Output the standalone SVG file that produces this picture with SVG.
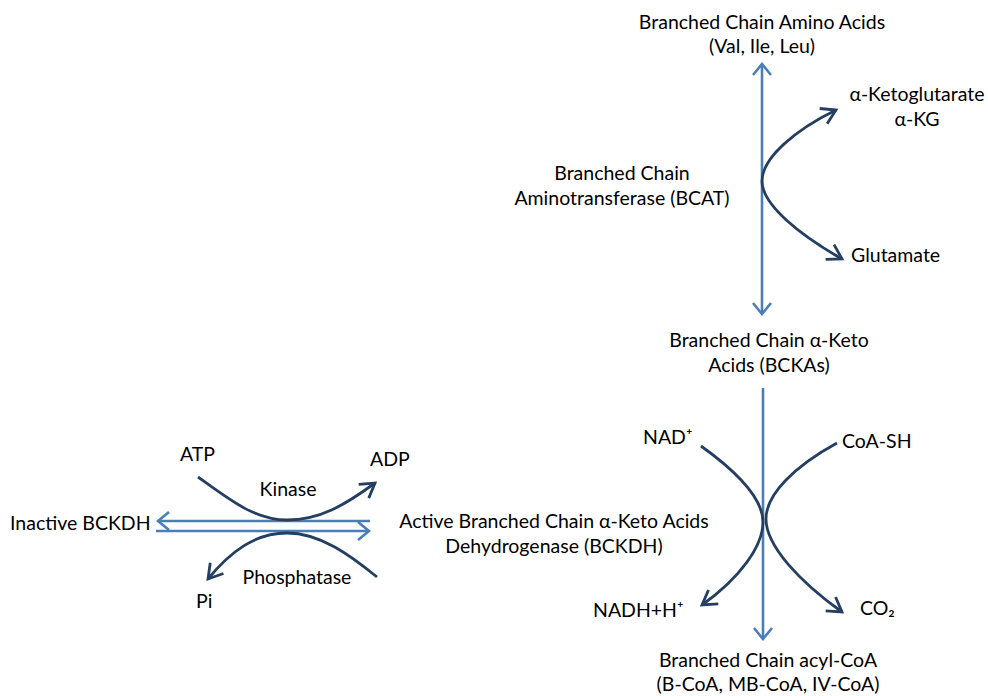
<svg xmlns="http://www.w3.org/2000/svg" width="988" height="696" viewBox="0 0 988 696">
<defs>
<marker id="ab" viewBox="0 0 14 20" refX="12" refY="10" markerWidth="14" markerHeight="20" markerUnits="userSpaceOnUse" orient="auto-start-reverse"><path d="M1,1 L12,10 L1,19" fill="none" stroke="#4a7ebb" stroke-width="2.6"/></marker>
<marker id="ad" viewBox="0 0 18 20" refX="15" refY="10" markerWidth="18" markerHeight="20" markerUnits="userSpaceOnUse" orient="auto-start-reverse"><path d="M1,1.5 L15,10 L1,18.5" fill="none" stroke="#243f60" stroke-width="2.8"/></marker>
</defs>
<style>
text{font-family:Lato,"Liberation Sans",sans-serif;font-size:19.5px;fill:#000}
.m{text-anchor:middle}
.b{fill:none;stroke:#4a7ebb;stroke-width:2.6}
.d{fill:none;stroke:#243f60;stroke-width:2.8}
</style>
<g id="connectors">
<line class="b" x1="762" y1="64" x2="762" y2="314" marker-start="url(#ab)" marker-end="url(#ab)"/>
<line class="b" x1="763" y1="388" x2="763" y2="639" marker-end="url(#ab)"/>
<line class="b" x1="370" y1="521" x2="158" y2="521" marker-end="url(#ab)"/>
<line class="b" x1="156" y1="531" x2="369" y2="531" marker-end="url(#ab)"/>
<path class="d" d="M836,110 C795,130 762,158 762,181 C762,205 800,235 842,259" marker-start="url(#ad)" marker-end="url(#ad)"/>
<path class="d" d="M701,446 C740,474 763,500 763,522 C763,546 740,578 702,605" marker-end="url(#ad)"/>
<path class="d" d="M837,443 C795,466 766,494 766,519 C766,546 800,582 842,612" marker-end="url(#ad)"/>
<path class="d" d="M198,477 C230,500 255,520 287,520 C320,520 345,505 375,483" marker-end="url(#ad)"/>
<path class="d" d="M377,577 C350,555 320,533 287,533 C255,533 230,552 208,579" marker-end="url(#ad)"/>
</g>
<g id="bcaa"><text class="m" x="762" y="29">Branched Chain Amino Acids</text><text class="m" x="762" y="53">(Val, Ile, Leu)</text></g>
<g id="akg"><text class="m" x="917" y="101">α-Ketoglutarate</text><text class="m" x="917" y="126">α-KG</text></g>
<g id="bcat"><text class="m" x="622" y="180">Branched Chain</text><text class="m" x="622" y="205">Aminotransferase (BCAT)</text></g>
<g id="glutamate"><text x="851" y="262">Glutamate</text></g>
<g id="bcka"><text class="m" x="769" y="347">Branched Chain α-Keto</text><text class="m" x="769" y="372">Acids (BCKAs)</text></g>
<g id="nad"><text x="643" y="444">NAD⁺</text></g>
<g id="coash"><text x="842" y="448">CoA-SH</text></g>
<g id="bckdh"><text class="m" x="554" y="528">Active Branched Chain α-Keto Acids</text><text class="m" x="554" y="553">Dehydrogenase (BCKDH)</text></g>
<g id="nadh"><text x="593" y="617">NADH+H⁺</text></g>
<g id="co2"><text x="860" y="615">CO₂</text></g>
<g id="acylcoa"><text class="m" x="768" y="667">Branched Chain acyl-CoA</text><text class="m" x="768" y="691">(B-CoA, MB-CoA, IV-CoA)</text></g>
<g id="atp"><text x="180" y="461">ATP</text></g>
<g id="adp"><text x="370" y="466">ADP</text></g>
<g id="kinase"><text class="m" x="288" y="496">Kinase</text></g>
<g id="inactive"><text x="10" y="530">Inactive BCKDH</text></g>
<g id="phosphatase"><text class="m" x="297" y="584">Phosphatase</text></g>
<g id="pi"><text x="196" y="608">Pi</text></g>
</svg>
